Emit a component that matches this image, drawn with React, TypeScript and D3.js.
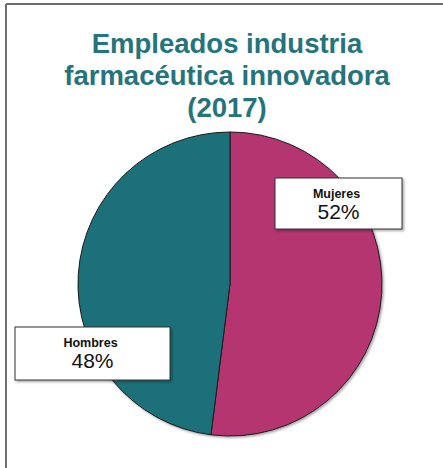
import React from 'react';
import * as d3 from 'd3';

const categories = ['Mujeres', 'Hombres'];
const values = [52, 48];
const titleLines = ['Empleados industria', 'farmacéutica innovadora', '(2017)'];

const colors = ['#b53471', '#1f6f79'];
const titleColor = '#25737b';

// label box placement relative to pie centre (layout only)
const labelBoxes = [
  { dx: 45, dy: -106, w: 127, h: 51 },
  { dx: -215, dy: 43, w: 155, h: 53 },
];

export default function App() {
  const width = 443;
  const height = 468;
  const cx = 230;
  const cy = 284;
  const r = 152;

  const pie = d3.pie<number>().sort(null).value((d) => d);
  const arc = d3.arc<d3.PieArcDatum<number>>().innerRadius(0).outerRadius(r);
  const arcs = pie(values);
  const total = d3.sum(values);
  const fmt = (v: number) => `${Math.round((v / total) * 100)}%`;

  return (
    <div style={{ position: 'fixed', left: 0, top: 0 }}>
      <svg width={width} height={height} style={{ display: 'block', background: '#fff' }}>
        <defs>
          <filter id="sh" x="-10%" y="-10%" width="130%" height="130%">
            <feDropShadow dx="1.5" dy="1.5" stdDeviation="1" floodColor="#000" floodOpacity="0.35" />
          </filter>
        </defs>
        <line x1={6} y1={4} x2={width} y2={4} stroke="#6e6e6e" strokeWidth={2} />
        <line x1={6} y1={4} x2={6} y2={height} stroke="#6e6e6e" strokeWidth={2} />

        <g fontFamily="'Liberation Sans', Arial, sans-serif" fontWeight="bold" fill={titleColor} textAnchor="middle" fontSize={27.5}>
          {titleLines.map((t, i) => (
            <text key={i} x={227} y={53 + i * 32}>{t}</text>
          ))}
        </g>

        <g transform={`translate(${cx},${cy})`} filter="url(#sh)">
          {arcs.map((a, i) => (
            <path key={i} d={arc(a) || ''} fill={colors[i]} stroke="#1a1a1a" strokeWidth={1} />
          ))}
        </g>

        {arcs.map((a, i) => {
          const b = labelBoxes[i];
          const x = cx + b.dx;
          const y = cy + b.dy;
          return (
            <g key={i} fontFamily="'Liberation Sans', Arial, sans-serif" textAnchor="middle" fill="#111">
              <rect x={x} y={y} width={b.w} height={b.h} fill="#fff" stroke="#333" strokeWidth={1} filter="url(#sh)" />
              <text x={x + b.w / 2 - 2} y={y + 20} fontSize={12.5} fontWeight="bold">{categories[i]}</text>
              <text x={x + b.w / 2} y={y + 41} fontSize={21}>{fmt(a.value)}</text>
            </g>
          );
        })}
      </svg>
    </div>
  );
}
